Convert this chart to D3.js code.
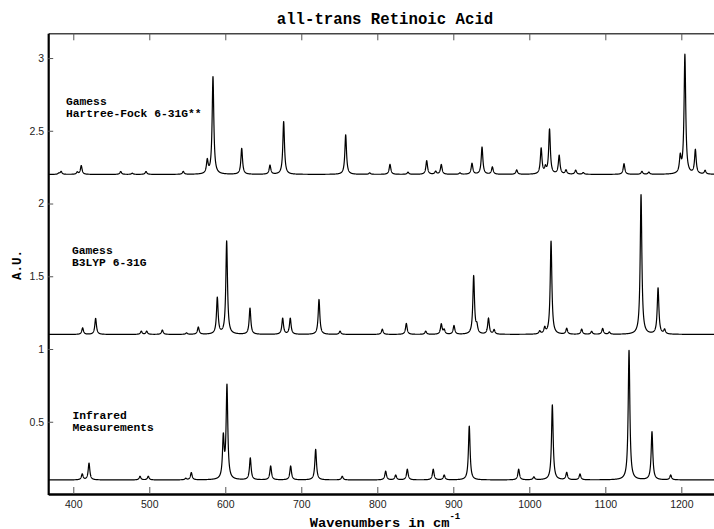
<!DOCTYPE html>
<html>
<head>
<meta charset="utf-8">
<script src="https://cdn.jsdelivr.net/npm/d3@7/dist/d3.min.js"></script>
<style>
  body { margin: 0; background: #fff; }
  svg { display: block; }
</style>
</head>
<body>
<div id="chart"></div>
<script>
(function() {
    // x range of the plot (cm^-1) and tick values
    const xDomain = [367, 1253];
    const yDomain = [0, 3.17];
    const xTicks = [400, 500, 600, 700, 800, 900, 1000, 1100, 1200];
    const yTicks = [0.5, 1, 1.5, 2, 2.5, 3];

    // Infrared measurements (baseline 0.1)
    const irPos = [411.8, 420.7, 487.8, 498.7, 548, 555.3, 597.4, 602.2, 632.9, 659.7, 686, 718.9, 753.9,
                   811, 824.2, 839.5, 873.6, 888, 921, 986, 1006, 1030.3, 1049.2, 1066.7, 1131.2, 1161.4, 1186];
    const irAmp = [0.04, 0.115, 0.025, 0.025, 0.01, 0.05, 0.28, 0.64, 0.15, 0.095, 0.095, 0.21, 0.025,
                   0.06, 0.033, 0.073, 0.073, 0.033, 0.37, 0.073, 0.02, 0.515, 0.05, 0.04, 0.89, 0.33, 0.033];

    // Gamess B3LYP 6-31G (baseline 1.1)
    const b3Pos = [412.3, 429.4, 489.5, 496.6, 517.2, 549, 564.5, 589.5, 601.8, 632.5, 675.5, 685.5, 723.3, 751,
                   806.6, 838.2, 863.7, 884.2, 888, 900.9, 926.8, 931, 946.3, 953.7, 1013.7, 1020.3, 1028.6,
                   1049.2, 1068.9, 1082, 1096.5, 1105.3, 1147, 1169.4, 1178];
    const b3Amp = [0.045, 0.11, 0.022, 0.022, 0.03, 0.01, 0.05, 0.25, 0.64, 0.18, 0.11, 0.11, 0.24, 0.022,
                   0.036, 0.075, 0.022, 0.07, 0.03, 0.06, 0.4, 0.05, 0.11, 0.03, 0.02, 0.04, 0.64,
                   0.04, 0.035, 0.02, 0.04, 0.015, 0.96, 0.317, 0.03];

    // Gamess Hartree-Fock 6-31G** (baseline 2.2)
    const hfPos = [381, 384, 405.3, 410.5, 462.4, 477.6, 495.7, 544.7, 576.3, 583.8, 621.6, 658.8, 676.8, 758.4,
                   790, 816.7, 840.4, 865, 876.8, 884.2, 908.8, 924.6, 937.8, 951.4, 983.4, 1015.6, 1021.2,
                   1026.6, 1039.3, 1048.3, 1061, 1071, 1124.6, 1148.2, 1157.3, 1198.6, 1204.7, 1218.5, 1231.3];
    const hfAmp = [0.008, 0.02, 0.015, 0.06, 0.02, 0.008, 0.02, 0.02, 0.09, 0.67, 0.178, 0.062, 0.363, 0.272,
                   0.01, 0.069, 0.015, 0.094, 0.02, 0.067, 0.01, 0.075, 0.187, 0.05, 0.03, 0.176, 0.04,
                   0.307, 0.128, 0.028, 0.028, 0.012, 0.073, 0.02, 0.015, 0.11, 0.82, 0.165, 0.025];

    const baselines = [0.1, 1.1, 2.2];
    const labels = [["Infrared", "Measurements"], ["Gamess", "B3LYP 6-31G"], ["Gamess", "Hartree-Fock 6-31G**"]];
    const hwhm = 1.3; // line half width, cm^-1

    const width = 714, height = 529;
    const margin = { left: 48.2, top: 33.3, bottom: 34.5 };

    const svg = d3.select("#chart").append("svg")
        .attr("width", width).attr("height", height);

    const x = d3.scaleLinear().domain(xDomain).range([margin.left, 721.6]);
    const y = d3.scaleLinear().domain(yDomain).range([height - margin.bottom, margin.top]);

    // broadened spectrum from a list of lines
    const spectrum = (pos, amp, base) => {
        const pts = [];
        for (let v = xDomain[0]; v <= xDomain[1]; v += 0.1) {
            let s = base;
            pos.forEach((p, i) => { s += amp[i] * hwhm * hwhm / ((v - p) * (v - p) + hwhm * hwhm); });
            pts.push([v, s]);
        }
        return pts;
    };

    const line = d3.line().x(d => x(d[0])).y(d => y(d[1]));

    svg.append("clipPath").attr("id", "clip")
        .append("rect").attr("x", margin.left).attr("y", margin.top)
        .attr("width", 721.6 - margin.left).attr("height", height - margin.bottom - margin.top);

    const series = [[irPos, irAmp], [b3Pos, b3Amp], [hfPos, hfAmp]];
    series.forEach((s, k) => {
        svg.append("path")
            .datum(spectrum(s[0], s[1], baselines[k]))
            .attr("d", line)
            .attr("clip-path", "url(#clip)")
            .attr("fill", "none")
            .attr("stroke", "#000")
            .attr("stroke-width", 1.2)
            .attr("stroke-linejoin", "round");
    });

    // series labels
    const labelPos = [[72.5, 415, 427], [72, 250.5, 262.5], [66, 101.5, 113]];
    labels.forEach((l, k) => {
        l.forEach((t, j) => {
            svg.append("text")
                .attr("x", labelPos[k][0])
                .attr("y", labelPos[k][1 + j])
                .attr("dy", "0.35em")
                .style("font-family", "'Liberation Mono', 'DejaVu Sans Mono', monospace")
                .style("font-weight", "bold")
                .style("font-size", "11.3px")
                .text(t);
        });
    });

    // axes
    const fmt = d => String(d);
    const bottom = svg.append("g")
        .attr("transform", `translate(0,${y(0) - 0.5})`)
        .call(d3.axisBottom(x).tickValues(xTicks).tickFormat(fmt).tickSize(-7).tickSizeOuter(0).tickPadding(7));
    bottom.select(".domain").attr("stroke", "#000").attr("stroke-width", 2.7);

    const top = svg.append("g")
        .attr("transform", `translate(0,${margin.top})`)
        .call(d3.axisTop(x).tickValues(xTicks).tickSize(-7).tickSizeOuter(0).tickFormat(""));
    top.select(".domain").attr("stroke", "#444").attr("stroke-width", 1.4);

    const left = svg.append("g")
        .attr("transform", `translate(${margin.left},0)`)
        .call(d3.axisLeft(y).tickValues(yTicks).tickFormat(fmt).tickSize(-5).tickSizeOuter(0).tickPadding(4));
    left.select(".domain").attr("stroke", "#000").attr("stroke-width", 2.2);

    [bottom, top, left].forEach(g => {
        g.selectAll(".tick line").attr("stroke", "#555").attr("stroke-width", 1);
        g.selectAll(".tick text")
            .attr("fill", "#222")
            .style("font-family", "'Liberation Sans', Arial, sans-serif")
            .style("font-size", "10.5px");
    });

    // title and axis titles
    svg.append("text")
        .attr("x", 385).attr("y", 24)
        .attr("text-anchor", "middle")
        .style("font-family", "'Liberation Mono', monospace")
        .style("font-weight", "bold")
        .style("font-size", "15.7px")
        .text("all-trans Retinoic Acid");

    const xl = svg.append("text")
        .attr("x", 385).attr("y", 526.5)
        .attr("text-anchor", "middle")
        .style("font-family", "'Liberation Mono', monospace")
        .style("font-weight", "bold")
        .style("font-size", "13.7px");
    xl.append("tspan").text("Wavenumbers in cm");
    xl.append("tspan").attr("dy", -8).style("font-size", "9px").text("-1");

    svg.append("text")
        .attr("transform", "translate(21,265) rotate(-90)")
        .attr("text-anchor", "middle")
        .style("font-family", "'Liberation Mono', monospace")
        .style("font-weight", "bold")
        .style("font-size", "12.5px")
        .text("A.U.");
})();
</script>
</body>
</html>
